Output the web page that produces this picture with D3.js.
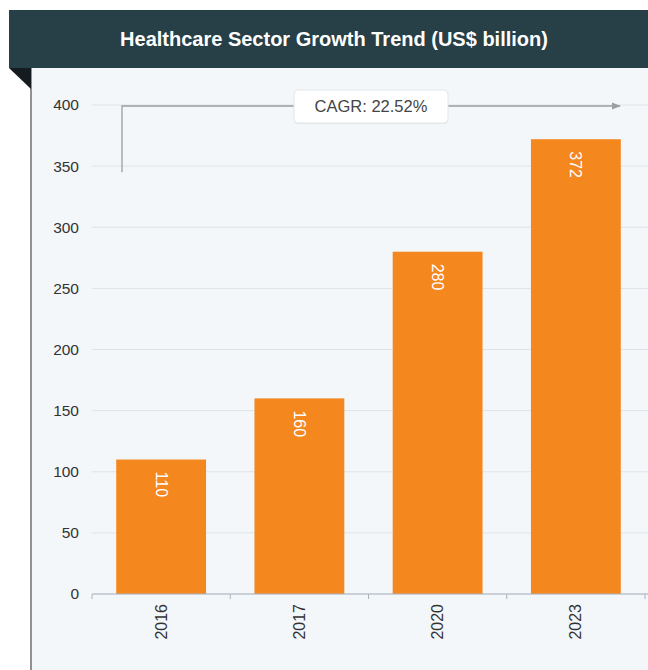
<!DOCTYPE html>
<html>
<head>
<meta charset="utf-8">
<script src="https://cdn.jsdelivr.net/npm/d3@7"></script>
<style>
  html, body { margin: 0; padding: 0; background: #ffffff; }
  svg { display: block; }
</style>
</head>
<body>
<svg id="chart" width="648" height="670"></svg>
<script>
const categories = ["2016", "2017", "2020", "2023"];
const values = [110, 160, 280, 372];
const yTicks = [0, 50, 100, 150, 200, 250, 300, 350, 400];
const title = "Healthcare Sector Growth Trend (US$ billion)";
const cagrLabel = "CAGR: 22.52%";

const svg = d3.select("#chart");
const W = 648, H = 670;
const FONT = "Liberation Sans, Arial, sans-serif";

// panel background
svg.append("rect").attr("x", 31).attr("y", 68).attr("width", W - 31).attr("height", H - 68).attr("fill", "#f3f7fa");
svg.append("line").attr("x1", 31).attr("x2", 31).attr("y1", 68).attr("y2", H)
  .attr("stroke", "#6b6f72").attr("stroke-width", 1.5);

// header
svg.append("rect").attr("x", 9).attr("y", 10).attr("width", W - 9).attr("height", 58).attr("fill", "#273f46");
svg.append("path").attr("d", "M9,68 L31,68 L31,89 Z").attr("fill", "#141c1f");
svg.append("text").attr("x", 334).attr("y", 46).attr("text-anchor", "middle")
  .attr("font-family", FONT).attr("font-weight", "bold")
  .attr("font-size", 20).attr("fill", "#ffffff").text(title);

// scales
const x = d3.scaleBand().domain(categories).range([92, 645]).paddingInner(0.35).paddingOuter(0.175);
const y = d3.scaleLinear().domain([0, 400]).range([594, 105]);

// grid
svg.append("g").selectAll("line").data(yTicks).join("line")
  .attr("x1", 92).attr("x2", W).attr("y1", d => y(d)).attr("y2", d => y(d))
  .attr("stroke", "#dfe3e7").attr("stroke-width", 1);

// y axis labels
const yAxis = d3.axisLeft(y).tickValues(yTicks).tickSize(0).tickPadding(0);
const gy = svg.append("g").attr("transform", "translate(79,0)").call(yAxis);
gy.select(".domain").remove();
gy.selectAll("text").attr("font-family", FONT)
  .attr("font-size", 15.5).attr("fill", "#333333");

// bars
svg.append("g").selectAll("rect").data(values).join("rect")
  .attr("x", (d, i) => x(categories[i])).attr("width", x.bandwidth())
  .attr("y", d => y(d)).attr("height", d => y(0) - y(d))
  .attr("fill", "#f5871f");

// bar labels (rotated 90)
svg.append("g").selectAll("text").data(values).join("text")
  .attr("transform", (d, i) => `translate(${x(categories[i]) + x.bandwidth() / 2},${y(d) + 12}) rotate(90)`)
  .attr("dy", "0.35em")
  .attr("font-family", FONT).attr("font-size", 16)
  .attr("fill", "#ffffff").text(d => d);

// x axis
const step = x.step();
const boundaries = d3.range(categories.length + 1).map(i => x(categories[0]) - x.paddingOuter() * step + i * step);
svg.append("line").attr("x1", 92).attr("x2", W).attr("y1", y(0)).attr("y2", y(0))
  .attr("stroke", "#a9b3bd").attr("stroke-width", 1.2);
svg.append("g").selectAll("line").data(boundaries).join("line")
  .attr("x1", d => d).attr("x2", d => d).attr("y1", y(0)).attr("y2", y(0) + 5)
  .attr("stroke", "#a9b3bd");
const xAxis = d3.axisBottom(x).tickSize(0).tickPadding(0);
const gx = svg.append("g").attr("transform", `translate(0,${y(0)})`).call(xAxis);
gx.select(".domain").remove();
gx.selectAll("text")
  .attr("font-family", FONT).attr("font-size", 16).attr("fill", "#333333")
  .attr("transform", "rotate(-90)").attr("text-anchor", "end")
  .attr("x", -10).attr("y", 0).attr("dy", "0.35em");

// CAGR annotation
const defs = svg.append("defs");
defs.append("marker").attr("id", "arr").attr("viewBox", "0 0 10 10").attr("refX", 9).attr("refY", 5)
  .attr("markerWidth", 7).attr("markerHeight", 7).attr("orient", "auto")
  .append("path").attr("d", "M0,1 L10,5 L0,9 Z").attr("fill", "#9a9fa4");
svg.append("path")
  .attr("d", `M122,${y(350) + 6} L122,${y(400) + 1} L620,${y(400) + 1}`)
  .attr("fill", "none").attr("stroke", "#9a9fa4").attr("stroke-width", 1.3)
  .attr("marker-end", "url(#arr)");
const bx = 294, bw = 154, by = 90, bh = 33;
svg.append("rect").attr("x", bx).attr("y", by + 1).attr("width", bw).attr("height", bh).attr("rx", 4)
  .attr("fill", "#d8dde1").attr("opacity", 0.6);
svg.append("rect").attr("x", bx).attr("y", by).attr("width", bw).attr("height", bh).attr("rx", 4)
  .attr("fill", "#ffffff").attr("stroke", "#e2e6ea");
svg.append("text").attr("x", bx + bw / 2).attr("y", by + bh / 2).attr("dy", "0.35em")
  .attr("text-anchor", "middle").attr("font-family", FONT)
  .attr("font-size", 16.5).attr("fill", "#444444").text(cagrLabel);
</script>
</body>
</html>
